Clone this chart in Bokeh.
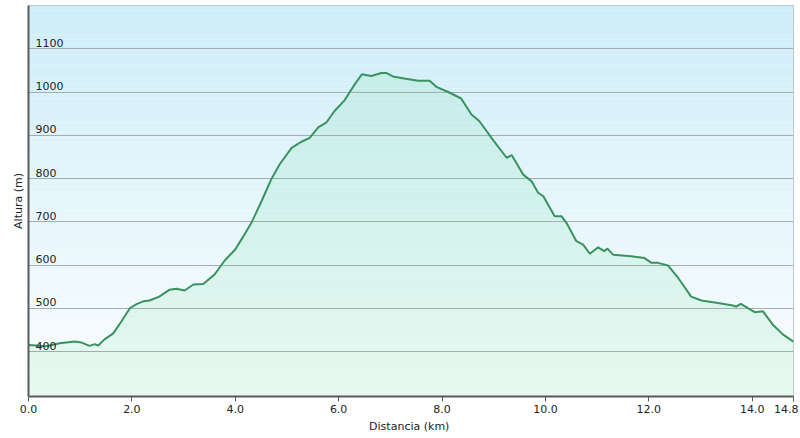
import numpy as np
from bokeh.plotting import figure
from bokeh.models import ColumnDataSource, FixedTicker, NumeralTickFormatter, Range1d, Grid
from bokeh.core.properties import value
from bokeh.embed import file_html
from bokeh.resources import INLINE

# ---- data ----
km = [0, 0.35, 0.6, 0.9, 1.02, 1.18, 1.28, 1.35, 1.47, 1.64, 1.8, 1.96, 2.1, 2.22,
      2.34, 2.53, 2.73, 2.86, 3.02, 3.19, 3.38, 3.6, 3.8, 4.0, 4.15, 4.31, 4.51, 4.7,
      4.86, 5.09, 5.28, 5.44, 5.61, 5.76, 5.92, 6.11, 6.29, 6.45, 6.63, 6.83, 6.92,
      7.05, 7.27, 7.54, 7.76, 7.89, 8.12, 8.37, 8.57, 8.72, 9.0, 9.25, 9.35, 9.57,
      9.73, 9.86, 9.96, 10.18, 10.31, 10.41, 10.6, 10.73, 10.86, 11.02, 11.14, 11.2,
      11.31, 11.66, 11.92, 12.05, 12.18, 12.37, 12.57, 12.82, 13.02, 13.34, 13.6,
      13.69, 13.78, 14.05, 14.21, 14.4, 14.6, 14.8]
alt = [415, 412, 419, 423, 421, 413, 417, 414, 428, 442, 470, 500, 510, 516,
       518, 527, 543, 545, 541, 555, 556, 578, 611, 636, 665, 697, 748, 799,
       833, 871, 885, 894, 919, 929, 956, 980, 1014, 1041, 1037, 1044, 1044,
       1036, 1031, 1026, 1026, 1012, 1000, 985, 948, 933, 887, 848, 854, 809,
       794, 767, 759, 713, 713, 697, 655, 647, 626, 641, 632, 638, 624, 620,
       616, 605, 605, 599, 570, 527, 518, 512, 507, 504, 510, 491, 493, 462,
       439, 423]
x_ticks = [0, 2, 4, 6, 8, 10, 12, 14, 14.8]
y_ticks = [400, 500, 600, 700, 800, 900, 1000, 1100]
y_tick_labels = ["400", "500", "600", "700", "800", "900", "1000", "1100"]

Y0, Y1 = 296, 1200
X0, X1 = 0, 14.8
FONT = "DejaVu Sans"

p = figure(width=798, height=435, output_backend="svg", toolbar_location=None,
           x_range=Range1d(X0, X1), y_range=Range1d(Y0, Y1),
           min_border_left=28, min_border_right=5, min_border_top=5, min_border_bottom=0)
p.background_fill_color = "white"
p.border_fill_color = "white"
p.outline_line_color = "#b4bcc4"

# background vertical gradient (light blue at top -> white at bottom)
n = 80
edges = np.linspace(Y0, Y1, n + 1)
top_c = np.array([205, 237, 248])
bot_c = np.array([252, 254, 255])
cols = []
for i in range(n):
    t = (i + 0.5) / n
    c = bot_c + (top_c - bot_c) * t
    cols.append("#%02x%02x%02x" % tuple(int(round(v)) for v in c))
p.quad(left=X0, right=X1, bottom=edges[:-1], top=edges[1:], fill_color=cols,
       line_color=None, level="image")

# horizontal grid lines
grid = Grid(dimension=1, ticker=FixedTicker(ticks=y_ticks),
            grid_line_color="#a4acb4", grid_line_width=1, level="underlay")
p.add_layout(grid)
p.ygrid[0].visible = False if len(p.ygrid) > 1 else p.ygrid[0].visible

src = ColumnDataSource(dict(km=km, alt=alt))
p.varea(x="km", y1=Y0, y2="alt", source=src, fill_color="#5ad68a", fill_alpha=0.13)
p.line(x="km", y="alt", source=src, line_color="#3a935e", line_width=2)

# axes
p.xaxis.ticker = FixedTicker(ticks=x_ticks)
p.xaxis.formatter = NumeralTickFormatter(format="0.0")
p.xaxis.axis_label = "Distancia  (km)"
p.xaxis.axis_line_color = "#5a5a5a"
p.xaxis.axis_line_width = 2
p.xaxis.major_tick_line_color = "#5a5a5a"
p.xaxis.major_tick_out = 5
p.xaxis.major_tick_in = 0
p.xaxis.minor_tick_line_color = None
p.xaxis.major_label_text_font = FONT
p.xaxis.major_label_text_font_size = "11px"
p.xaxis.major_label_text_color = "#222222"
p.xaxis.major_label_standoff = 3
p.xaxis.axis_label_text_font = FONT
p.xaxis.axis_label_text_font_size = "11px"
p.xaxis.axis_label_text_font_style = "normal"
p.xaxis.axis_label_text_color = "#222222"
p.xaxis.axis_label_standoff = 4
p.xgrid.visible = False

p.yaxis.ticker = FixedTicker(ticks=[])
p.yaxis.axis_label = "Altura (m)"
p.yaxis.axis_line_color = "#5a5a5a"
p.yaxis.axis_line_width = 2
p.yaxis.major_tick_line_color = None
p.yaxis.minor_tick_line_color = None
p.yaxis.major_tick_out = 0
p.yaxis.major_tick_in = 0
p.yaxis.major_label_standoff = 0
p.yaxis.axis_label_text_font = FONT
p.yaxis.axis_label_text_font_size = "11px"
p.yaxis.axis_label_text_font_style = "normal"
p.yaxis.axis_label_text_color = "#222222"
p.yaxis.axis_label_standoff = 4
p.ygrid.visible = False
grid.visible = True

# y tick labels inside the plot area
lab = ColumnDataSource(dict(x=[X0] * len(y_ticks), y=y_ticks, t=y_tick_labels))
p.text(x="x", y="y", text="t", source=lab, x_offset=7, y_offset=-2,
       text_font=value(FONT), text_font_size="11px", text_color="#222222",
       text_baseline="bottom", text_align="left")

open("out.html", "w").write(file_html(p, INLINE))
